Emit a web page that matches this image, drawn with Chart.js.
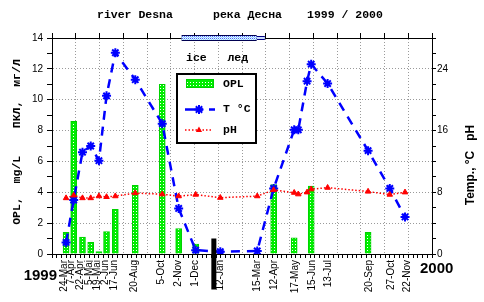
<!DOCTYPE html>
<html>
<head>
<meta charset="utf-8">
<script src="https://cdn.jsdelivr.net/npm/chart.js@4.4.0/dist/chart.umd.min.js"></script>
<style>
  html, body { margin: 0; padding: 0; background: #fff; }
  #wrap { width: 484px; height: 302px; }
</style>
</head>
<body>
<div id="wrap"><canvas id="c" width="484" height="302"></canvas></div>
<script>
// dates where the samples sit on the time axis, and the text printed under them
const sampleDates = ['1999-04-24', '1999-05-07', '1999-05-22', '1999-06-05', '1999-06-19', '1999-07-02',
  '1999-07-17', '1999-08-20', '1999-10-05', '1999-11-02', '1999-12-01', '2000-01-12', '2000-03-15',
  '2000-04-12', '2000-05-17', '2000-05-24', '2000-06-08', '2000-06-15', '2000-07-13', '2000-09-20',
  '2000-10-27', '2000-11-22'];
const dateLabels = ['24-Mar', '7-Apr', '22-Apr', '5-Mai', '19-Mai', '2-Jun', '17-Jun', '20-Aug', '5-Oct',
  '2-Nov', '1-Dec', '12-Jan', '15-Mar', '12-Apr', '17-May', '', '', '15-Jun', '13-Jul', '20-Sep',
  '27-Oct', '22-Nov'];

// OPL, mg/L (left axis)
const opl = [1.4, 8.6, 1.1, 0.75, 0.15, 1.45, 2.9, 4.45, 11.0, 1.65, 0.65, null, null,
  4.5, 1.05, null, null, 4.4, null, 1.4, null, null];
// water temperature, °C (right axis)
const temp = [1.5, 7.0, 13.2, 14.0, 12.1, 20.5, 26.1, 22.6, 16.9, 5.9, 0.5, 0.3, 0.4,
  8.5, 16.1, 16.1, 22.4, 24.6, 22.1, 13.4, 8.5, 4.8];
// pH (right axis)
const ph = [7.25, 7.6, 7.25, 7.25, 7.5, 7.4, 7.5, 7.9, 7.75, 7.5, 7.7, 7.3, 7.5,
  8.3, 7.95, 7.75, 8.0, 8.4, 8.6, 8.1, 7.7, 8.0];

// ice cover period
const iceSpan = ['1999-11-07', '2000-03-14'];
const iceTail = ['2000-03-14', '2000-03-28'];
// new year marker
const yearMark = '2000-01-01';

const titleParts = ['river Desna', 'река Десна', '1999 / 2000'];
const legendNames = ['OPL', 'T °C', 'pH'];

const day = s => (Date.UTC(+s.slice(0, 4), +s.slice(5, 7) - 1, +s.slice(8, 10)) - Date.UTC(1999, 0, 1)) / 864e5;
const xs = sampleDates.map(day);
const pts = vals => xs.map((x, i) => ({ x, y: vals[i] })).filter(p => p.y !== null);
const xMin = day('1999-04-04'), xMax = day('2001-01-03');

function makePattern(w, h, draw) {
  const c = document.createElement('canvas');
  c.width = w; c.height = h;
  draw(c.getContext('2d'));
  return document.getElementById('c').getContext('2d').createPattern(c, 'repeat');
}
const greenPat = makePattern(3, 3, g => {
  g.fillStyle = '#00ee00'; g.fillRect(0, 0, 3, 3);
  g.fillStyle = '#ffffff'; g.fillRect(1, 1, 1, 1);
});
const icePat = makePattern(2, 2, g => {
  g.fillStyle = '#e8f4ff'; g.fillRect(0, 0, 2, 2);
  g.fillStyle = '#4a6cff'; g.fillRect(0, 0, 1, 1);
  g.fillStyle = '#90d8ff'; g.fillRect(1, 1, 1, 1);
});

function everyNDays(n) {
  return scale => {
    const t = [];
    for (let v = xMin; v <= xMax + 0.01; v += n) t.push({ value: v });
    scale.ticks = t;
  };
}
const dotted = '#9a9a9a';

Chart.defaults.font.family = "'Liberation Sans', Arial, sans-serif";
Chart.defaults.font.size = 10;
Chart.defaults.color = '#000';

function star(ctx, x, y, r) {
  const d = r * Math.SQRT1_2;
  ctx.beginPath();
  ctx.moveTo(x - r, y); ctx.lineTo(x + r, y);
  ctx.moveTo(x, y - r); ctx.lineTo(x, y + r);
  ctx.moveTo(x - d, y - d); ctx.lineTo(x + d, y + d);
  ctx.moveTo(x - d, y + d); ctx.lineTo(x + d, y - d);
  ctx.stroke();
}

const decor = {
  id: 'decor',
  afterDatasetsDraw(chart) {
    const ctx = chart.ctx;
    ctx.save();
    ctx.fillStyle = '#000';
    ctx.textBaseline = 'middle';
    ctx.textAlign = 'left';
    const mono = "bold 11.5px 'Liberation Mono', 'DejaVu Sans Mono', monospace";
    ctx.font = mono;
    [97, 213, 307].forEach((x, i) => ctx.fillText(titleParts[i], x, 15));
    ctx.fillText('ice   лед', 186, 58);

    // legend box
    ctx.fillStyle = '#fff';
    ctx.fillRect(177, 74, 79, 69);
    ctx.strokeStyle = '#000';
    ctx.lineWidth = 2;
    ctx.strokeRect(177, 74, 79, 69);
    ctx.fillStyle = greenPat;
    ctx.fillRect(186, 79, 28, 9);
    ctx.strokeStyle = '#00d000';
    ctx.lineWidth = 1;
    ctx.strokeRect(186.5, 79.5, 27, 8);
    ctx.strokeStyle = '#0000ff';
    ctx.lineWidth = 2.5;
    ctx.setLineDash([18, 6]);
    ctx.beginPath(); ctx.moveTo(185, 109.5); ctx.lineTo(215, 109.5); ctx.stroke();
    ctx.setLineDash([]);
    ctx.lineWidth = 2;
    star(ctx, 199, 109.5, 4.5);
    ctx.strokeStyle = '#ff0000';
    ctx.lineWidth = 1.5;
    ctx.setLineDash([1.5, 2]);
    ctx.beginPath(); ctx.moveTo(185, 130); ctx.lineTo(213, 130); ctx.stroke();
    ctx.setLineDash([]);
    ctx.fillStyle = '#ff0000';
    ctx.beginPath();
    ctx.moveTo(199, 126.5); ctx.lineTo(195.9, 132); ctx.lineTo(202.1, 132); ctx.closePath(); ctx.fill();
    ctx.fillStyle = '#000';
    ctx.font = mono;
    [84, 109, 130].forEach((y, i) => ctx.fillText(legendNames[i], 223, y));

    // year captions
    ctx.font = "bold 15px 'Liberation Sans Narrow', 'Liberation Sans', Arial, sans-serif";
    ctx.textAlign = 'right';
    ctx.fillText('1999', 57, 276);
    ctx.textAlign = 'left';
    ctx.fillText('2000', 420, 269);

    // axis titles
    ctx.textAlign = 'center';
    ctx.save();
    ctx.translate(17, 142);
    ctx.rotate(-Math.PI / 2);
    ctx.font = mono;
    ctx.fillText('OPL,  mg/L    ПКЛ,  мг/Л', 0, 0);
    ctx.restore();
    ctx.save();
    ctx.translate(471, 165);
    ctx.rotate(-Math.PI / 2);
    ctx.font = "bold 12px 'Liberation Sans', Arial, sans-serif";
    ctx.fillText('Temp., °C   pH', 0, 0);
    ctx.restore();
    ctx.restore();
  }
};

new Chart(document.getElementById('c'), {
  type: 'line',
  data: {
    datasets: [
      {
        type: 'bar', label: 'OPL', data: pts(opl), xAxisID: 'x', yAxisID: 'y',
        backgroundColor: greenPat, borderColor: '#00d000', borderWidth: 1,
        barThickness: 6, order: 10
      },
      {
        label: 'T °C', data: pts(temp), xAxisID: 'x', yAxisID: 'yR',
        borderColor: '#0000ff', borderWidth: 2.5, borderDash: [9, 7], tension: 0,
        pointStyle: 'star', pointRadius: 4.5, pointBorderWidth: 2,
        pointBorderColor: '#0000ff', pointBackgroundColor: '#0000ff', order: 4
      },
      {
        label: 'pH', data: pts(ph), xAxisID: 'x', yAxisID: 'yR',
        borderColor: '#ff0000', borderWidth: 1.5, borderDash: [1.5, 2], tension: 0,
        pointStyle: 'triangle', pointRadius: 3.2, pointBorderWidth: 1,
        pointBorderColor: '#ff0000', pointBackgroundColor: '#ff0000', order: 3
      },
      {
        label: 'ice', data: iceSpan.map(d => ({ x: day(d), y: 14 })), xAxisID: 'x', yAxisID: 'y',
        borderColor: '#000050', borderWidth: 6, pointRadius: 0, clip: false, borderCapStyle: 'butt', order: 2
      },
      {
        label: 'ice2', data: iceSpan.map(d => ({ x: day(d), y: 14 })), xAxisID: 'x', yAxisID: 'y',
        borderColor: icePat, borderWidth: 4, pointRadius: 0, clip: false, borderCapStyle: 'butt', order: 1
      },
      {
        label: 'iceTail', data: iceTail.map(d => ({ x: day(d), y: 14 })), xAxisID: 'x', yAxisID: 'y',
        borderColor: '#000080', borderWidth: 4, pointRadius: 0, clip: false, borderCapStyle: 'butt', order: 2
      },
      {
        label: 'iceTail2', data: iceTail.map(d => ({ x: day(d), y: 14 })), xAxisID: 'x', yAxisID: 'y',
        borderColor: '#c8dcff', borderWidth: 2, pointRadius: 0, clip: false, borderCapStyle: 'butt', order: 1
      },
      {
        label: 'year', data: [{ x: day(yearMark), y: 1.0 }, { x: day(yearMark), y: -2.3 }], xAxisID: 'x', yAxisID: 'y',
        borderColor: '#000', borderWidth: 5, pointRadius: 0, clip: false, borderCapStyle: 'butt', order: 0
      }
    ]
  },
  options: {
    responsive: false,
    animation: false,
    events: [],
    layout: { padding: 0 },
    plugins: { legend: { display: false }, title: { display: false }, tooltip: { enabled: false } },
    scales: {
      x: {
        type: 'linear', position: 'bottom', min: xMin, max: xMax, weight: 0,
        afterBuildTicks: everyNDays(8),
        afterFit: s => { s.height = 5; },
        ticks: { display: false, autoSkip: false },
        grid: { drawOnChartArea: false, tickLength: 4, tickColor: '#000' },
        border: { color: '#000', width: 1 }
      },
      xLab: {
        type: 'linear', position: 'bottom', min: xMin, max: xMax, weight: 1,
        afterBuildTicks: s => {
          s.ticks = xs.map((v, i) => ({ value: v, i })).filter(t => dateLabels[t.i] !== '').map(t => ({ value: t.value }));
        },
        afterFit: s => { s.height = 43; },
        ticks: {
          autoSkip: false, minRotation: 90, maxRotation: 90, padding: 1,
          font: { size: 10 },
          callback: v => dateLabels[xs.indexOf(v)]
        },
        grid: { display: false, drawTicks: false },
        border: { display: false }
      },
      xTop: {
        type: 'linear', position: 'top', min: xMin, max: xMax,
        afterBuildTicks: everyNDays(40),
        afterFit: s => { s.height = 38; },
        ticks: { display: false, autoSkip: false },
        grid: {
          color: c => (c.index > 0 && c.index < 16) ? dotted : 'rgba(0,0,0,0)',
          tickColor: '#000', tickLength: 5
        },
        border: { color: '#000', width: 1, dash: [1, 2] }
      },
      y: {
        position: 'left', min: 0, max: 14,
        afterFit: s => { s.width = 52; },
        ticks: { stepSize: 1, padding: 4, autoSkip: false, callback: v => v % 2 === 0 ? v : '' },
        grid: {
          color: c => (c.tick.value % 2 === 0 && c.tick.value > 0 && c.tick.value < 14) ? dotted : 'rgba(0,0,0,0)',
          tickColor: '#000', tickLength: 5
        },
        border: { color: '#000', width: 1, dash: [1, 2] }
      },
      yR: {
        position: 'right', min: 0, max: 28,
        afterFit: s => { s.width = 52; },
        ticks: { stepSize: 2, padding: 1, autoSkip: false, callback: v => v % 8 === 0 ? v : '' },
        grid: { drawOnChartArea: false, tickColor: '#000', tickLength: 4 },
        border: { color: '#000', width: 1 }
      }
    }
  },
  plugins: [decor]
});
</script>
</body>
</html>
